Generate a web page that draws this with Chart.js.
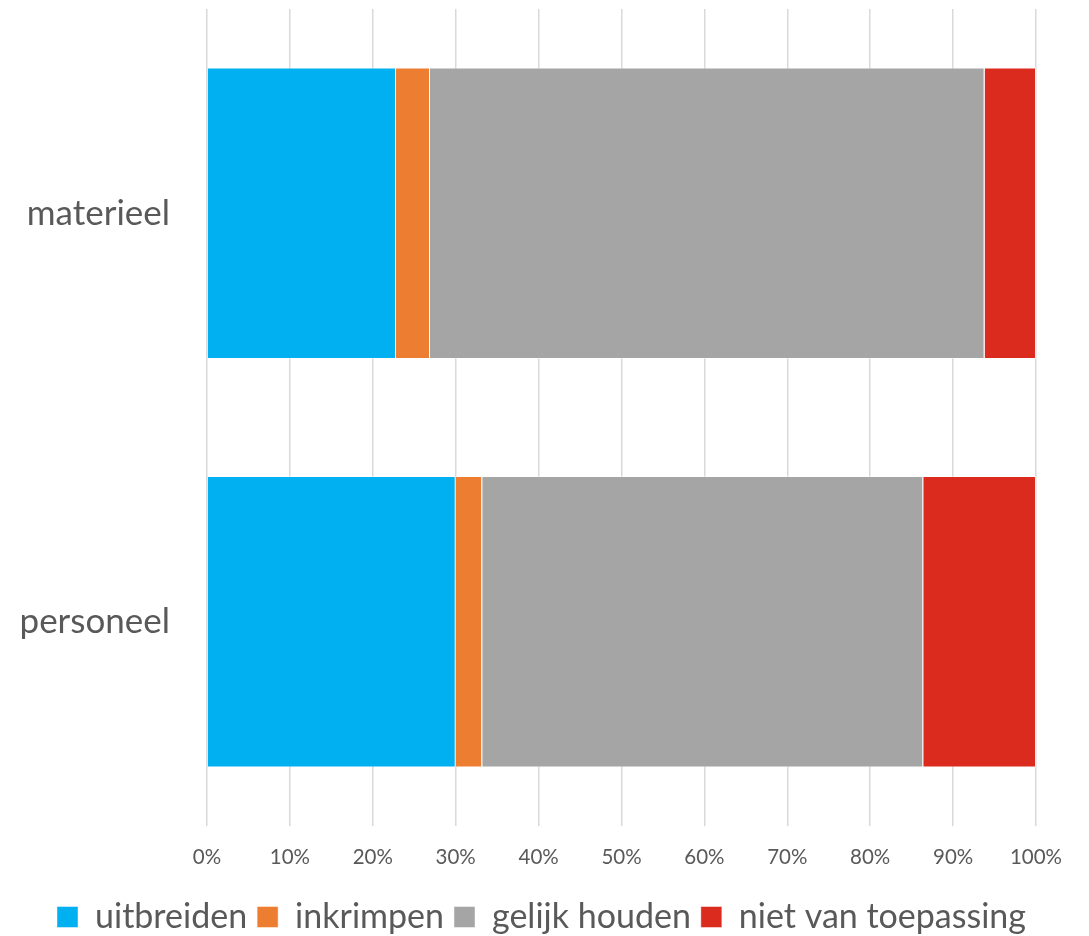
<!DOCTYPE html>
<html lang="nl">
<head>
    <meta charset="UTF-8">
    <title>materieel / personeel</title>
    <script src="https://cdn.jsdelivr.net/npm/chart.js"></script>
    <style>
        html, body { margin: 0; padding: 0; background: #fff; }
        .wrap { width: 1089px; height: 936px; }
    </style>
</head>
<body>
    <div class="wrap"><canvas id="chart" width="1089" height="936"></canvas></div>
    <script>
        // data (percent of each row)
        const categories = ['materieel', 'personeel'];
        const uitbreiden = [22.8, 30.0];
        const inkrimpen = [4.1, 3.2];
        const gelijkHouden = [66.9, 53.2];
        const nietVanToepassing = [6.2, 13.6];
        const tickValues = [0, 10, 20, 30, 40, 50, 60, 70, 80, 90, 100];

        const textColor = '#595959';
        const fontFamily = 'Lato, "Open Sans", sans-serif';

        function ds(label, data, color) {
            return {
                label: label,
                data: data,
                backgroundColor: color,
                borderColor: 'rgba(255,255,255,0.45)',
                borderWidth: 1,
                barPercentage: 0.713,
                categoryPercentage: 1.0
            };
        }

        new Chart(document.getElementById('chart'), {
            type: 'bar',
            data: {
                labels: categories,
                datasets: [
                    ds('uitbreiden', uitbreiden, '#00B0F0'),
                    ds('inkrimpen', inkrimpen, '#ED7D31'),
                    ds('gelijk houden', gelijkHouden, '#A5A5A5'),
                    ds('niet van toepassing', nietVanToepassing, '#DB2B1F')
                ]
            },
            options: {
                indexAxis: 'y',
                responsive: false,
                animation: false,
                layout: { padding: { top: 9, right: 53, bottom: -8, left: 0 } },
                plugins: {
                    tooltip: { enabled: false },
                    legend: {
                        position: 'bottom',
                        align: 'end',
                        labels: {
                            boxWidth: 21,
                            boxHeight: 21,
                            padding: 10,
                            color: textColor,
                            font: { family: fontFamily, size: 34 }
                        }
                    }
                },
                scales: {
                    x: {
                        stacked: true,
                        min: 0,
                        max: 100,
                        afterBuildTicks: function(scale) {
                            scale.ticks = tickValues.map(v => ({ value: v }));
                        },
                        afterFit: function(scale) {
                            scale.height = 64;
                            scale.paddingLeft = 0;
                            scale.paddingRight = 0;
                        },
                        grid: { color: '#D9D9D9', lineWidth: 1.5, drawTicks: false },
                        border: { display: false },
                        ticks: {
                            color: textColor,
                            padding: 19,
                            font: { family: fontFamily, size: 20.5 },
                            callback: v => v + '%'
                        }
                    },
                    y: {
                        stacked: true,
                        afterFit: function(scale) {
                            scale.width = 207;
                            scale.paddingTop = 0;
                            scale.paddingBottom = 0;
                        },
                        grid: { display: false, drawTicks: false },
                        border: { display: false },
                        ticks: {
                            color: textColor,
                            padding: 37,
                            font: { family: fontFamily, size: 35 }
                        }
                    }
                }
            }
        });
    </script>
</body>
</html>
